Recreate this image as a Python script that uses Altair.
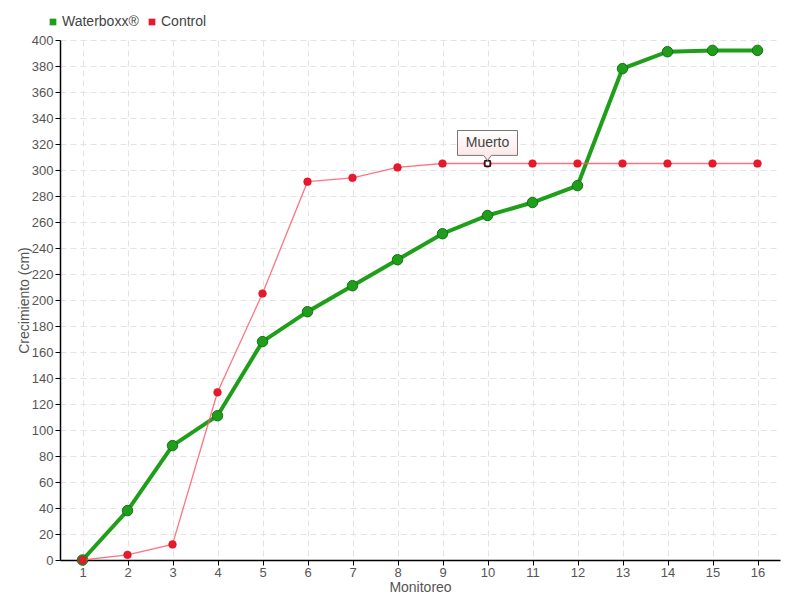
import altair as alt
import pandas as pd

monitoreo = list(range(1, 17))
waterboxx = [0, 38, 88, 111, 168, 191, 211, 231, 251, 265, 275, 288, 378, 391, 392, 392]
control = [0, 4, 12, 129, 205, 291, 294, 302, 305, 305, 305, 305, 305, 305, 305, 305]
series = ["Waterboxx®", "Control"]
colors = ["#1f9e1a", "#e8192c"]
y_ticks = list(range(0, 401, 20))
note_text = "Muerto"
note_x = 10
note_y = 305

FONT = "Liberation Sans, Arial, sans-serif"

df_w = pd.DataFrame({"m": monitoreo, "v": waterboxx, "s": series[0]})
df_c = pd.DataFrame({"m": monitoreo, "v": control, "s": series[1]})
df_note = pd.DataFrame({"m": [note_x], "v": [note_y], "t": [note_text]})

xs = alt.Scale(domain=[0.5, 16.5], nice=False, zero=False)
ys = alt.Scale(domain=[0, 400], nice=False)
cs = alt.Scale(domain=series, range=colors)

X = alt.X("m:Q", scale=xs, title="Monitoreo",
          axis=alt.Axis(values=monitoreo, format="d", grid=True, gridDash=[6, 4],
                        gridColor="#e3e3e3", domainColor="#000", domainWidth=1.5,
                        tickColor="#000", tickSize=5, labelFontSize=13, labelColor="#555",
                        labelFont=FONT, titleFont=FONT, titleFontSize=14,
                        titleFontWeight="normal", titleColor="#555", titlePadding=1,
                        labelPadding=1))
Y = alt.Y("v:Q", scale=ys, title="Crecimiento (cm)",
          axis=alt.Axis(values=y_ticks, grid=True, gridDash=[6, 4], gridColor="#e3e3e3",
                        domainColor="#000", domainWidth=1.5, tickColor="#000", tickSize=5,
                        labelFontSize=13, labelColor="#555", labelFont=FONT,
                        titleFont=FONT, titleFontSize=14, titleFontWeight="normal",
                        titleColor="#555", titlePadding=0, labelPadding=2))

C = alt.Color("s:N", scale=cs, title=None,
              legend=alt.Legend(orient="none", legendX=-14, legendY=-25, direction="horizontal",
                                symbolType="square", symbolSize=45, labelFont=FONT,
                                labelFontSize=14, labelColor="#444", columnPadding=6,
                                symbolStrokeWidth=0, labelOffset=2))

red_line = alt.Chart(df_c).mark_line(color="#ff5c6c", strokeWidth=1.3, opacity=0.85).encode(x=X, y=Y)
red_pts = alt.Chart(df_c).mark_point(filled=True, size=60, opacity=1, stroke="#d01020",
                                     strokeWidth=0.5).encode(x=X, y=Y, color=C)
green_line = alt.Chart(df_w).mark_line(color="#1f9e1a", strokeWidth=4).encode(x=X, y=Y)
green_pts = alt.Chart(df_w).mark_point(filled=True, size=110, opacity=1, stroke="#17701a",
                                       strokeWidth=1).encode(x=X, y=Y, color=C)

hover = alt.Chart(df_note).mark_point(shape="square", size=26, filled=True, fill="white",
                                      stroke="black", strokeWidth=1.2, opacity=1).encode(x=X, y=Y)
box = alt.Chart(df_note).mark_point(
    shape="M-1,-1.1L1,-1.1L1,-0.27L0.13,-0.27L0,-0.1L-0.13,-0.27L-1,-0.27Z",
    size=3600, filled=True, opacity=1, strokeOpacity=1,
    fill=alt.Gradient(gradient="linear", x1=0, y1=0, x2=0, y2=1,
                      stops=[alt.GradientStop(color="#ffffff", offset=0),
                             alt.GradientStop(color="#fbe3e4", offset=1)]),
    stroke="#777", strokeWidth=1).encode(x=X, y=Y)
txt = alt.Chart(df_note).mark_text(dy=-21, font=FONT, fontSize=14, color="#444").encode(
    x=X, y=Y, text="t:N")

chart = alt.layer(green_line, green_pts, red_line, red_pts, hover, box, txt).properties(
    width=720, height=520,
    autosize=alt.AutoSizeParams(type="none"),
    padding={"left": 52, "top": 32, "right": 12, "bottom": 33},
).configure_view(stroke=None)

chart.save("out.html", embed_options={"renderer": "svg", "actions": False})
